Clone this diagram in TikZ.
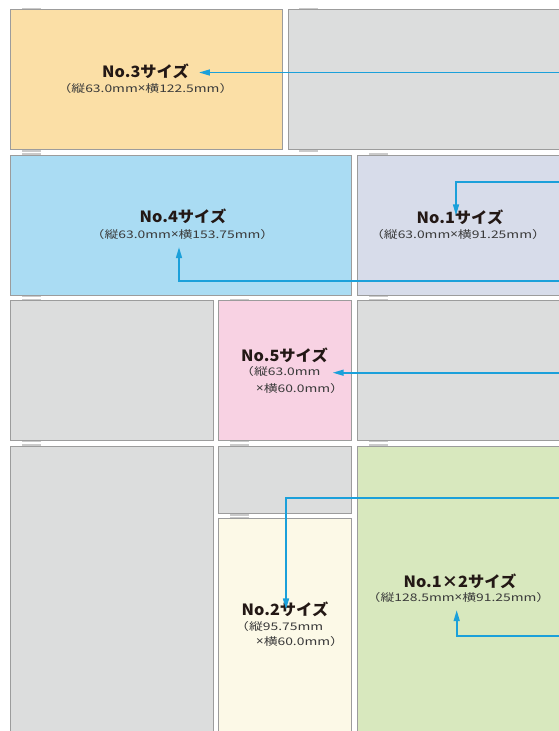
\documentclass[tikz,border=0pt]{standalone}
\usepackage{fontspec}
\newfontfamily\jpt{Noto Sans CJK JP}[FakeStretch=1.05]
\newfontfamily\jps{Noto Sans CJK JP}[FakeStretch=1.32]
\newfontfamily\latx{Noto Sans}[FakeStretch=1.1]
\newcommand{\mx}{{\latx\fontsize{12}{13}\selectfont ×}}
\usetikzlibrary{arrows.meta}
\definecolor{cOrange}{HTML}{FBDFA6}
\definecolor{cGray}{HTML}{DCDDDD}
\definecolor{cBlue}{HTML}{AADCF3}
\definecolor{cLav}{HTML}{D7DCEA}
\definecolor{cPink}{HTML}{F8D2E3}
\definecolor{cCream}{HTML}{FCF9E7}
\definecolor{cGreen}{HTML}{D8E8BE}
\definecolor{cBorder}{HTML}{9C9C9C}
\definecolor{cTab}{HTML}{CACACA}
\definecolor{cArrow}{HTML}{1BA0DA}
\definecolor{cTitle}{HTML}{231815}
\definecolor{cSub}{HTML}{3A3A3A}
\begin{document}
\begin{tikzpicture}[x=1pt,y=-1pt,
  box/.style={draw=cBorder,line width=1pt,anchor=north west,inner sep=0pt,outer sep=0pt},
  ttl/.style={font=\jpt\bfseries\fontsize{15.5}{18}\selectfont,text=cTitle,inner sep=0pt},
  sub/.style={font=\jps\fontsize{10.5}{13}\selectfont,text=cSub,inner sep=0pt},
  subl/.style={sub,anchor=west},
  arr/.style={draw=cArrow,line width=1.6pt,-{Triangle[length=11pt,width=6pt]}}]
\useasboundingbox (0,0) rectangle (559,731);
\clip (0,0) rectangle (559,731);
% tabs
\foreach \x/\y in {10.5/9.5,288/9.5,10.5/155,357.5/155,10.5/300.5,218.5/300.5,357.5/300.5,10.5/446,218.5/446,357.5/446,218.5/518.5}{
  \fill[cTab] (\x+11,\y-2) rectangle (\x+30,\y);}
\foreach \x/\y in {10.5/149.5,288/149.5,10.5/295,357.5/295,10.5/440,218.5/440,357.5/440,218.5/513.5}{
  \fill[cTab] (\x+11,\y) rectangle (\x+30,\y+2);}
% boxes
\node[box,fill=cOrange,minimum width=272pt,minimum height=140pt] (b3) at (10.5,9.5) {};
\node[box,fill=cGray,minimum width=280pt,minimum height=140pt] (g1) at (288,9.5) {};
\node[box,fill=cBlue,minimum width=341pt,minimum height=140pt] (b4) at (10.5,155) {};
\node[box,fill=cLav,minimum width=210pt,minimum height=140pt] (b1) at (357.5,155) {};
\node[box,fill=cGray,minimum width=202.5pt,minimum height=139.5pt] (g2) at (10.5,300.5) {};
\node[box,fill=cPink,minimum width=133pt,minimum height=139.5pt] (b5) at (218.5,300.5) {};
\node[box,fill=cGray,minimum width=210pt,minimum height=139.5pt] (g3) at (357.5,300.5) {};
\node[box,fill=cGray,minimum width=202.5pt,minimum height=300pt] (g4) at (10.5,446) {};
\node[box,fill=cGray,minimum width=133pt,minimum height=67.5pt] (g5) at (218.5,446) {};
\node[box,fill=cCream,minimum width=133pt,minimum height=230pt] (b2) at (218.5,518.5) {};
\node[box,fill=cGreen,minimum width=210pt,minimum height=300pt] (b12) at (357.5,446) {};
% texts
\node[ttl] (t3) at (145.5,71) {No.3サイズ};
\node[sub] (s3) at (145.5,89) {（縦63.0mm\mx 横122.5mm）};
\node[ttl] (t4) at (183,216) {No.4サイズ};
\node[sub] (s4) at (182.5,235) {（縦63.0mm\mx 横153.75mm）};
\node[ttl] (t1) at (460,217) {No.1サイズ};
\node[sub] (s1) at (458,235) {（縦63.0mm\mx 横91.25mm）};
\node[ttl] (t5) at (284.5,355) {No.5サイズ};
\node[subl] (s5a) at (240,372) {（縦63.0mm};
\node[subl] (s5b) at (256,389) {\mx 横60.0mm）};
\node[ttl] (t2) at (285,609) {No.2サイズ};
\node[subl] (s2a) at (235,627) {（縦95.75mm};
\node[subl] (s2b) at (256,642) {\mx 横60.0mm）};
\node[ttl] (t12) at (460,581) {No.1×2サイズ};
\node[sub] (s12) at (458.5,598) {（縦128.5mm\mx 横91.25mm）};
% arrow origins at right edge
\coordinate (e3) at (560,72.5);
\coordinate (e1) at (560,181.7);
\coordinate (e4) at (560,280.7);
\coordinate (e5) at (560,372.7);
\coordinate (e2) at (560,497.7);
\coordinate (e12) at (560,636);
% arrows
\draw[arr] (e3) -- ([xshift=10pt]t3.east |- e3);
\draw[arr] (e1) -| ([yshift=-6pt]t1.north -| 456,0);
\draw[arr] (e4) -| ([yshift=-7pt]s4.south -| 179,0);
\draw[arr] (e5) -- ([xshift=12pt]s5a.east |- e5);
\draw[arr] (e2) -| ([yshift=-8pt]t2.north -| 286,0);
\draw[arr] (e12) -| ([yshift=-7pt]s12.south -| 456.7,0);
\end{tikzpicture}
\end{document}
